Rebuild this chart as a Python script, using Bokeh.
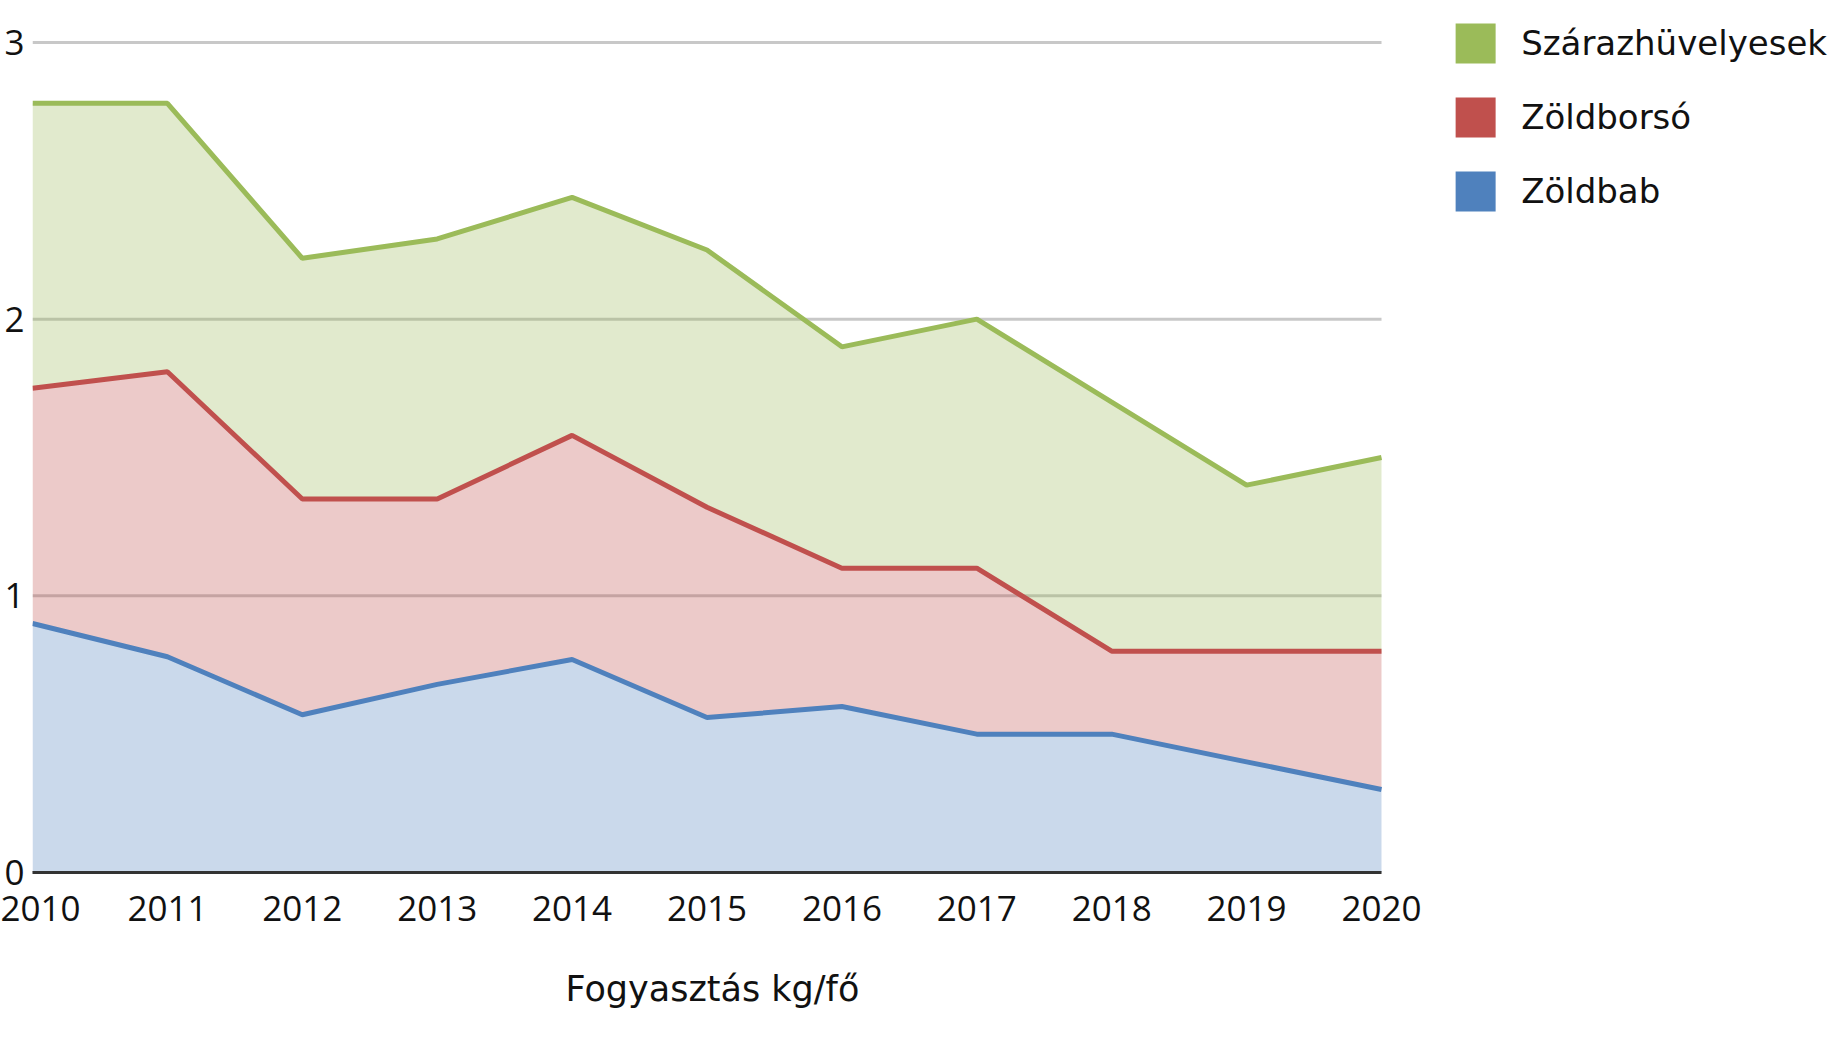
from bokeh.plotting import figure
from bokeh.models import ColumnDataSource, FixedTicker, Legend, LegendItem, Title
from bokeh.embed import file_html
from bokeh.resources import INLINE

# ---- data ----
years = [2010, 2011, 2012, 2013, 2014, 2015, 2016, 2017, 2018, 2019, 2020]
year_labels = ["2010", "2011", "2012", "2013", "2014", "2015", "2016", "2017", "2018", "2019", "2020"]
zoldbab = [0.90, 0.78, 0.57, 0.68, 0.77, 0.56, 0.60, 0.50, 0.50, 0.40, 0.30]
zoldborso = [0.85, 1.03, 0.78, 0.67, 0.81, 0.76, 0.50, 0.60, 0.30, 0.40, 0.50]
szarazhuvelyesek = [1.03, 0.97, 0.87, 0.94, 0.86, 0.93, 0.80, 0.90, 0.90, 0.60, 0.70]
series_names = ["Zöldbab", "Zöldborsó", "Szárazhüvelyesek"]
y_ticks = [0, 1, 2, 3]
axis_title = "Fogyasztás kg/fő"

colors = ["#4f81bd", "#c0504d", "#9bbb59"]

source = ColumnDataSource(dict(year=years, zoldbab=zoldbab, zoldborso=zoldborso,
                               szaraz=szarazhuvelyesek))
stackers = ["zoldbab", "zoldborso", "szaraz"]

# geometry: plotting area 1349px for the 10 years, frame extended to the right for the legend
PLOT_W = 1349
FRAME_W = 1799
FRAME_H = 858
PPU = 830 / 3.0
y_top = FRAME_H / PPU
x_start, x_end_data = years[0], years[-1]
x_end = x_start + (x_end_data - x_start) * FRAME_W / PLOT_W

p = figure(frame_width=FRAME_W, frame_height=FRAME_H,
           min_border_left=32, min_border_top=14, min_border_right=0, min_border_bottom=0,
           x_range=(x_start, x_end), y_range=(0, y_top),
           output_backend="svg", toolbar_location=None,
           background_fill_color="white", border_fill_color="white")
p.outline_line_color = None

# horizontal grid lines limited to the data span
p.segment(x0=[x_start] * len(y_ticks), x1=[x_end_data] * len(y_ticks),
          y0=y_ticks, y1=y_ticks, line_color="#c8c8c8", line_width=3)

p.varea_stack(stackers=stackers, x="year", fill_color=colors, fill_alpha=0.3, source=source)
p.vline_stack(stackers=stackers, x="year", line_color=colors, line_width=5, source=source)

# axes
tick_font = "Open Sans"
p.xaxis.bounds = (x_start, x_end_data)
p.xaxis.ticker = FixedTicker(ticks=years)
p.xaxis.major_label_overrides = {y: l for y, l in zip(years, year_labels)}
p.xaxis.axis_line_color = "#333333"
p.xaxis.axis_line_width = 3
p.xaxis.major_tick_line_color = None
p.xaxis.minor_tick_line_color = None
p.xaxis.major_tick_out = 0
p.xaxis.major_tick_in = 0
p.xaxis.major_label_text_font = tick_font
p.xaxis.major_label_text_font_size = "35px"
p.xaxis.major_label_text_color = "#111111"
p.xaxis.major_label_standoff = 23

p.yaxis.ticker = FixedTicker(ticks=y_ticks)
p.yaxis.axis_line_color = None
p.yaxis.major_tick_line_color = None
p.yaxis.minor_tick_line_color = None
p.yaxis.major_tick_out = 0
p.yaxis.major_tick_in = 0
p.yaxis.major_label_text_font = tick_font
p.yaxis.major_label_text_font_size = "35px"
p.yaxis.major_label_text_color = "#111111"
p.yaxis.major_label_standoff = 8

p.xgrid.grid_line_color = None
p.ygrid.grid_line_color = None

# x-axis title, centred under the data span
title = Title(text=axis_title, align="left", offset=533, standoff=86,
              text_font="DejaVu Sans", text_font_size="35px", text_font_style="normal",
              text_color="#111111")
p.add_layout(title, "below")

# legend with solid swatches (hidden solid copies of the stacked areas)
swatches = p.varea_stack(stackers=stackers, x="year", fill_color=colors, fill_alpha=1.0,
                         source=source)
for r in swatches:
    r.visible = False
items = [LegendItem(label=series_names[i], renderers=[swatches[i]]) for i in [2, 1, 0]]
GLYPH = 50
SPACING = 24
legend = Legend(items=items, location="top_right", click_policy="none",
                glyph_width=GLYPH, glyph_height=GLYPH, label_height=GLYPH,
                spacing=SPACING, padding=0, margin=4, label_standoff=21,
                label_text_font="DejaVu Sans", label_text_font_size="34px",
                label_text_color="#111111",
                border_line_color=None, background_fill_alpha=0)
p.add_layout(legend, "center")

open("out.html", "w").write(file_html(p, INLINE))
